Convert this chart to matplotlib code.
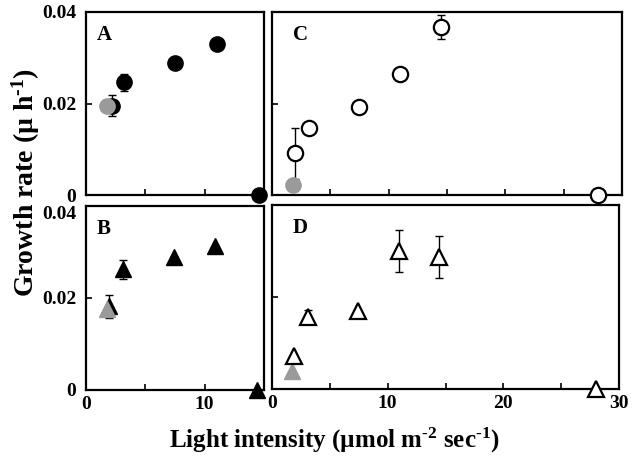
import matplotlib
matplotlib.use("Agg")
import matplotlib.pyplot as plt
from matplotlib.ticker import MultipleLocator, FixedLocator

plt.rcParams["font.family"] = "Liberation Serif"
plt.rcParams["font.weight"] = "bold"
plt.rcParams["mathtext.fontset"] = "custom"
plt.rcParams["mathtext.rm"] = "Liberation Serif:bold"
plt.rcParams["mathtext.it"] = "Liberation Serif:bold"
plt.rcParams["mathtext.bf"] = "Liberation Serif:bold"

# Panel A: filled circles
a_x = [2.15, 3.2, 7.5, 11.0, 14.6]
a_y = [0.0195, 0.0246, 0.0289, 0.0329, 0.0]
a_err = [0.0023, 0.0019, 0.0, 0.0, 0.0]
a_gray_x = [1.75]
a_gray_y = [0.0195]

# Panel B: filled triangles
b_x = [1.95, 3.1, 7.4, 10.9, 14.4]
b_y = [0.0182, 0.0262, 0.0290, 0.0314, 0.0]
b_err = [0.0025, 0.002, 0.0, 0.0, 0.0]
b_gray_x = [1.75]
b_gray_y = [0.0176]

# Panel C: open circles
c_x = [1.95, 3.15, 7.45, 10.95, 14.45, 27.9]
c_y = [0.0091, 0.0146, 0.0193, 0.0264, 0.0367, 0.0]
c_err = [0.0055, 0.0, 0.0, 0.0, 0.0026, 0.0]
c_gray_x = [1.8]
c_gray_y = [0.0022]

# Panel D: open triangles
d_x = [1.9, 3.1, 7.4, 11.0, 14.4, 28.0]
d_y = [0.0072, 0.0157, 0.0170, 0.0300, 0.0287, 0.0]
d_err = [0.0, 0.0015, 0.0, 0.0045, 0.0045, 0.0]
d_gray_x = [1.75]
d_gray_y = [0.0040]

GRAY = "#9a9a9a"
W, H = 637, 462


def rect(l, r, t, b):
    return [l / W, 1 - b / H, (r - l) / W, (b - t) / H]


fig = plt.figure(figsize=(6.37, 4.62), dpi=100)
axA = fig.add_axes(rect(86, 264, 12, 195))
axC = fig.add_axes(rect(272, 622, 12, 195))
axB = fig.add_axes(rect(86, 264, 206, 390))
axD = fig.add_axes(rect(272, 619, 205, 389))


def style(ax, xmax, letter, ylabels, xlabels):
    ax.set_xlim(0, xmax)
    ax.set_ylim(0, 0.04)
    for s in ax.spines.values():
        s.set_linewidth(1.6)
    ax.xaxis.set_major_locator(MultipleLocator(5))
    ax.yaxis.set_major_locator(FixedLocator([0, 0.02, 0.04]))
    ax.tick_params(direction="in", length=4, width=1.2, labelsize=14,
                   top=False, right=False, pad=4)
    ax.tick_params(axis="y", pad=7)
    if ylabels:
        ax.set_yticklabels(["0", "0.02", "0.04"])
    else:
        ax.set_yticklabels([])
    if xlabels:
        ax.set_xticklabels([f"{v:g}" if v % 10 == 0 else "" for v in ax.get_xticks()])
    else:
        ax.set_xticklabels([])
    ax.text(0.06, 0.93, letter, transform=ax.transAxes, fontsize=15,
            fontweight="bold", va="top", ha="left")


style(axA, 15, "A", True, False)
style(axB, 15, "B", True, True)
style(axC, 30, "C", False, False)
style(axD, 30, "D", False, True)

# the stacked panels share an edge, so keep the "0" and "0.04" labels apart
axB.get_yticklabels()[-1].set_va("top")
axA.get_yticklabels()[0].set_va("center_baseline")

# A
axA.errorbar(a_x, a_y, yerr=a_err, fmt="none", ecolor="black", elinewidth=1,
             capsize=3, capthick=1, zorder=2)
axA.plot(a_x, a_y, "o", ms=11, color="black", ls="none", clip_on=False, zorder=3)
axA.plot(a_gray_x, a_gray_y, "o", ms=11, color=GRAY, ls="none", zorder=4)

# B
axB.errorbar(b_x, b_y, yerr=b_err, fmt="none", ecolor="black", elinewidth=1,
             capsize=3, capthick=1, zorder=2)
axB.plot(b_x, b_y, "^", ms=11, color="black", ls="none", clip_on=False, zorder=3)
axB.plot(b_gray_x, b_gray_y, "^", ms=11, color=GRAY, ls="none", zorder=4)

# C
axC.errorbar(c_x, c_y, yerr=c_err, fmt="none", ecolor="black", elinewidth=1,
             capsize=3, capthick=1, zorder=2)
axC.plot(c_gray_x, c_gray_y, "o", ms=11, color=GRAY, ls="none", zorder=3)
axC.plot(c_x, c_y, "o", ms=11, mfc="white", mec="black", mew=1.6, ls="none",
         clip_on=False, zorder=4)

# D
axD.errorbar(d_x, d_y, yerr=d_err, fmt="none", ecolor="black", elinewidth=1,
             capsize=3, capthick=1, zorder=2)
axD.plot(d_gray_x, d_gray_y, "^", ms=11, color=GRAY, ls="none", zorder=3)
axD.plot(d_x, d_y, "^", ms=11, mfc="white", mec="black", mew=1.6, ls="none",
         clip_on=False, zorder=4)

fig.text(26 / W, 1 - 183 / H, r"Growth rate (µ h$^{\text{-1}}$)", rotation=90,
         fontsize=20, fontweight="bold", ha="center", va="center")
fig.text(334 / W, 1 - 440 / H, r"Light intensity (µmol m$^{\text{-2}}$ sec$^{\text{-1}}$)",
         fontsize=18, fontweight="bold", ha="center", va="center")

fig.savefig("out.png", dpi=100)
